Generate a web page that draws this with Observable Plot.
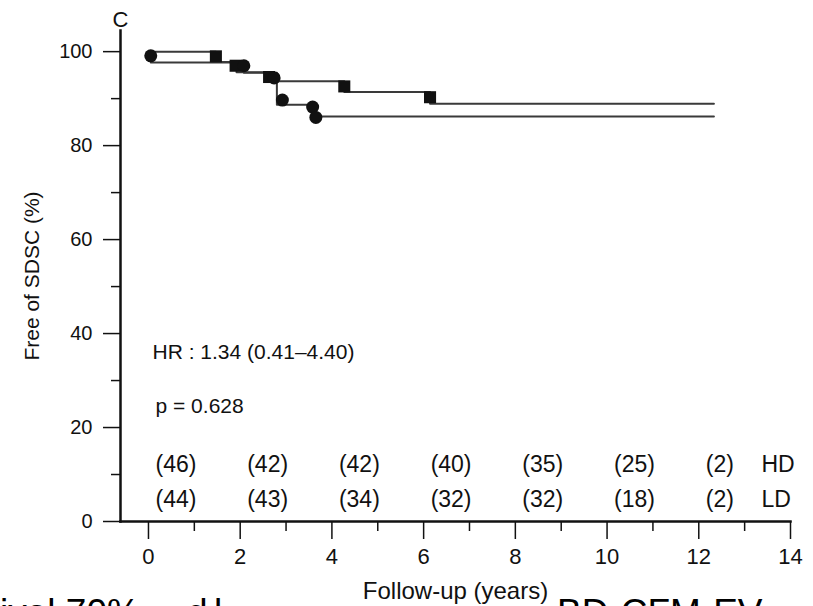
<!DOCTYPE html>
<html><head><meta charset="utf-8">
<script src="https://cdn.jsdelivr.net/npm/d3@7"></script>
<script src="https://cdn.jsdelivr.net/npm/@observablehq/plot@0.6"></script>
<style>
html,body{margin:0;padding:0;background:#fff;overflow:hidden;width:813px;height:606px}
#wrap{position:relative;width:813px;height:606px;overflow:hidden}
.frag{position:absolute;top:594px;font:37px 'Liberation Sans',Arial,sans-serif;color:#000;white-space:pre;line-height:1}
</style></head><body><div id="wrap"></div>
<script>
// Kaplan–Meier step curves (time in years, % free of SDSC)
const hdTimes = [0, 1.47, 1.92, 2.65, 4.27, 6.14, 12.33];
const hdSurv  = [100, 97.8, 95.6, 93.7, 91.4, 88.9, 88.9];
const ldTimes = [0, 0.05, 2.08, 2.8, 3.62, 12.33];
const ldSurv  = [100, 97.7, 95.5, 88.7, 86.2, 86.2];
// event markers
const hdMarkT = [1.47, 1.90, 2.63, 4.27, 6.14];
const hdMarkV = [99.0, 97.0, 94.6, 92.6, 90.3];
const ldMarkT = [0.05, 2.08, 2.74, 2.92, 3.58, 3.65];
const ldMarkV = [99.1, 97.0, 94.4, 89.7, 88.2, 86.0];
// numbers at risk
const riskTimes = [0, 2, 4, 6, 8, 10, 12];
const riskHD = [46, 42, 42, 40, 35, 25, 2];
const riskLD = [44, 43, 34, 32, 32, 18, 2];
// ticks
const xMajor = [0, 2, 4, 6, 8, 10, 12, 14];
const xMinor = [1, 3, 5, 7, 9, 11, 13];
const yMajor = [0, 20, 40, 60, 80, 100];
const yMinor = [10, 30, 50, 70, 90];

const hd = hdTimes.map((t, i) => ({t, s: hdSurv[i]}));
const ld = ldTimes.map((t, i) => ({t, s: ldSurv[i]}));
const hdM = hdMarkT.map((t, i) => ({t, s: hdMarkV[i]}));
const ldM = ldMarkT.map((t, i) => ({t, s: ldMarkV[i]}));
const risk = riskTimes.map((t, i) => ({t, hd: riskHD[i], ld: riskLD[i]}));

const FONT = "'Liberation Sans', Arial, Helvetica, sans-serif";
const INK = "#111";

const chart = Plot.plot({
  width: 813, height: 606,
  marginLeft: 120, marginRight: 23, marginTop: 30, marginBottom: 85,
  x: {domain: [-0.61, 14], label: null},
  y: {domain: [0, 104.5], label: null},
  style: {fontFamily: FONT, background: "#fff", color: INK},
  marks: [
    Plot.axisY(yMinor, {tickSize: 9, tickFormat: () => "", stroke: INK, strokeWidth: 1.5, label: null}),
    Plot.axisY(yMajor, {tickSize: 17, tickPadding: 11, fontSize: 20, stroke: INK, strokeWidth: 1.5, label: null}),
    Plot.axisX(xMinor, {tickSize: 10, tickFormat: () => "", stroke: INK, strokeWidth: 1.5, label: null}),
    Plot.axisX(xMajor, {tickSize: 18, tickPadding: 9, fontSize: 22, stroke: INK, strokeWidth: 1.5, label: null}),
    Plot.frame({anchor: "left", stroke: INK, strokeWidth: 2.5}),
    Plot.frame({anchor: "bottom", stroke: INK, strokeWidth: 2.5}),
    Plot.line(hd, {x: "t", y: "s", curve: "step-after", stroke: "#3a3a3a", strokeWidth: 2}),
    Plot.line(ld, {x: "t", y: "s", curve: "step-after", stroke: "#3a3a3a", strokeWidth: 2}),
    Plot.dot(hdM, {x: "t", y: "s", symbol: "square", r: 6.8, fill: INK, stroke: null}),
    Plot.dot(ldM, {x: "t", y: "s", symbol: "circle", r: 6.5, fill: INK, stroke: null}),
    Plot.text(["C"], {frameAnchor: "top-left", dx: -8, dy: -4, textAnchor: "start", lineAnchor: "bottom", fontSize: 22, fill: INK}),
    Plot.text(["Free of SDSC (%)"], {frameAnchor: "left", rotate: -90, dx: -88, textAnchor: "middle", lineAnchor: "middle", fontSize: 21, fill: INK}),
    Plot.text(["Follow-up (years)"], {frameAnchor: "bottom", dy: 77, textAnchor: "middle", lineAnchor: "bottom", fontSize: 24, fill: INK}),
    Plot.text(["HR : 1.34 (0.41–4.40)"], {frameAnchor: "bottom-left", dx: 32, dy: -163, textAnchor: "start", lineAnchor: "bottom", fontSize: 21, fill: INK}),
    Plot.text(["p = 0.628"], {frameAnchor: "bottom-left", dx: 35, dy: -109, textAnchor: "start", lineAnchor: "bottom", fontSize: 21, fill: INK}),
    Plot.text(risk, {x: "t", text: d => `(${d.hd})`, frameAnchor: "bottom", dx: 7, dy: -50, textAnchor: "start", lineAnchor: "bottom", fontSize: 23, fill: INK}),
    Plot.text(risk, {x: "t", text: d => `(${d.ld})`, frameAnchor: "bottom", dx: 7, dy: -15, textAnchor: "start", lineAnchor: "bottom", fontSize: 23, fill: INK}),
    Plot.text(["HD"], {frameAnchor: "bottom-right", dx: -29, dy: -50, textAnchor: "start", lineAnchor: "bottom", fontSize: 23, fill: INK}),
    Plot.text(["LD"], {frameAnchor: "bottom-right", dx: -29, dy: -15, textAnchor: "start", lineAnchor: "bottom", fontSize: 23, fill: INK})
  ]
});
const wrap = document.getElementById("wrap");
// clipped text from the page below the figure (drawn underneath the figure)
[["ival 70%", 0], ["d", 187], ["l", 214], ["BD-CFM-EV", 557]].forEach(([s, x]) => {
  const d = document.createElement("div");
  d.className = "frag";
  d.textContent = s;
  d.style.left = x + "px";
  wrap.appendChild(d);
});
chart.style.position = "absolute";
chart.style.left = "0px";
chart.style.top = "0px";
chart.style.background = "transparent";
wrap.appendChild(chart);
</script></body></html>
